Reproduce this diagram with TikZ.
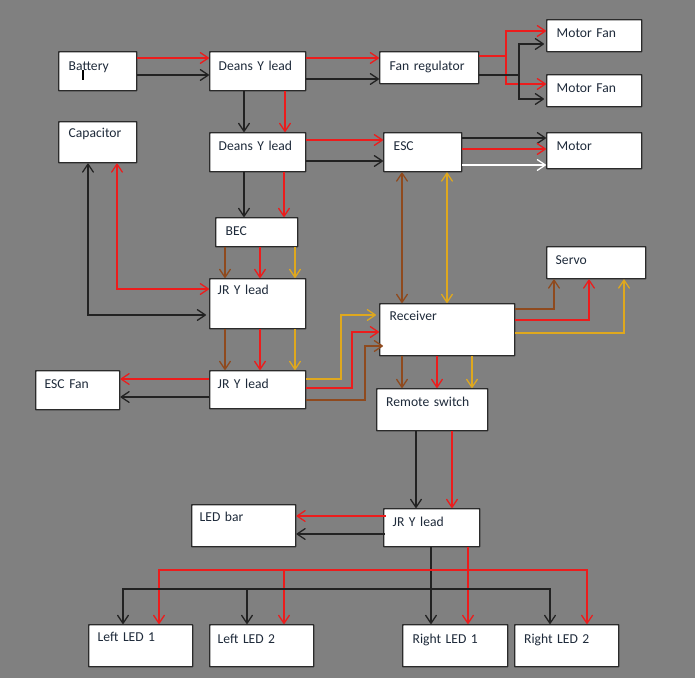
\documentclass[tikz,border=0pt]{standalone}
\usepackage{fontspec}
\setmainfont{Carlito}
\usetikzlibrary{arrows.meta}
\definecolor{bggray}{HTML}{808080}
\definecolor{edge}{HTML}{2B2B2B}
\definecolor{wred}{HTML}{EC1C1C}
\definecolor{wblack}{HTML}{222222}
\definecolor{wbrown}{HTML}{8F4A1E}
\definecolor{wyellow}{HTML}{DFA81E}
\definecolor{labelc}{HTML}{1E2A3A}
\tikzset{
  x=0.75pt,y=-0.75pt,
  dn/.style={yshift=-#1*0.75pt},
  rt/.style={xshift=#1*0.75pt},
  tipb/.tip={Straight Barb[length=6pt,width=8pt,round]},
  boxs/.style={draw=edge,fill=white,line width=1.1pt,anchor=north west,inner ysep=0pt,
     align=left,text=labelc,font=\fontsize{10.2}{12}\selectfont,rounded corners=0.4pt},
  wire/.style={line width=0.95pt,-{tipb}},
  plain/.style={line width=0.95pt},
  wr/.style={wire,color=wred},
  wk/.style={wire,color=wblack},
  wb/.style={wire,color=wbrown},
  wy/.style={wire,color=wyellow},
  ww/.style={wire,color=white},
  dbl/.style={{tipb}-{tipb}},
}
\newcommand\bx[8]{%
  \pgfmathsetmacro\bw{(#4-#2)*0.75}%
  \pgfmathsetmacro\bh{(#5-#3)*0.75}%
  \pgfmathsetmacro\bl{(#6-#2)*0.75}%
  \pgfmathsetmacro\ta{(#7+3.5-#3)*0.75}%
  \pgfmathsetmacro\td{(#5-#7-3.5)*0.75}%
  \node[boxs,minimum width=\bw pt,minimum height=\bh pt,
        text width=\bw pt-2*\bl pt,text height=\ta pt,text depth=\td pt,
        inner xsep=\bl pt] (#1) at (#2,#3) {\leavevmode\rlap{#8}};%
}
\begin{document}
\begin{tikzpicture}
\useasboundingbox (0,0) rectangle (695,678);
\fill[bggray] (0,0) rectangle (695,678);
% boxes: name, x0,y0,x1,y1, text x, text mid y, text
\bx{bat}{58}{51}{136}{90}{68}{66}{Battery}
\bx{d1}{209}{51}{305}{90}{218}{66}{Deans Y lead}
\bx{cap}{58}{121}{136}{162}{68}{133}{Capacitor}
\bx{d2}{209}{132}{305}{171}{218}{146}{Deans Y lead}
\bx{bec}{215}{217}{297}{246}{225}{231}{BEC}
\bx{j1}{209}{278}{305}{328}{217}{290}{JR Y lead}
\bx{j2}{209}{370}{305}{408}{217}{384}{JR Y lead}
\bx{fan}{35}{370}{119}{409}{44}{384}{ESC Fan}
\bx{reg}{379}{51}{478}{83}{389}{66}{Fan regulator}
\bx{mf1}{546}{19}{641}{51}{556}{33}{Motor Fan}
\bx{mf2}{546}{74}{641}{106}{556}{88}{Motor Fan}
\bx{esc}{383}{132}{461}{171}{393}{146}{ESC}
\bx{mot}{546}{132}{641}{168}{556}{146}{Motor}
\bx{srv}{546}{246}{645}{278}{555}{260}{Servo}
\bx{rcv}{379}{303}{514}{355}{389}{316}{Receiver}
\bx{rem}{376}{388}{487}{430}{385.5}{402}{Remote switch}
\bx{j3}{383}{508}{479}{546}{392}{522}{JR Y lead}
\bx{led}{191}{504}{295}{546}{199}{517}{LED bar}
\bx{l1}{88}{624}{192}{666}{97}{637}{Left LED 1}
\bx{l2}{209}{624}{313}{666}{217}{639}{Left LED 2}
\bx{r1}{402}{624}{507}{666}{412}{639}{Right LED 1}
\bx{r2}{514}{624}{618}{666}{523.5}{639}{Right LED 2}
% text cursor over Battery
\draw[black,line width=1.2pt] (83,70) -- (83,80);
% junction and routing coordinates
\coordinate (fr) at (506,56);
\coordinate (fk) at (519,75);
\coordinate (yv) at (341,350);
\coordinate (rv) at (352,360);
\coordinate (bv) at (365,370);
\coordinate (rbus) at (468,570);
\coordinate (kbus) at (431,589);
% battery to first lead
\draw[wr] ([dn=7]bat.north east) -- ([dn=7]d1.north west);
\draw[wk] ([dn=24]bat.north east) -- ([dn=24]d1.north west);
% first lead
\draw[wr] ([dn=7]d1.north east) -- ([dn=7]reg.north west);
\draw[wk] ([dn=28]d1.north east) -- ([dn=28]reg.north west);
\draw[wk] ([rt=35]d1.south west) -- ([rt=35]d2.north west);
\draw[wr] ([rt=76]d1.south west) -- ([rt=76]d2.north west);
% fan regulator
\draw[plain,wred] ([dn=5]reg.north east) -- (fr);
\draw[wr] (fr) |- ([dn=12]mf1.north west);
\draw[wr] (fr) |- ([dn=10]mf2.north west);
\draw[plain,wblack] ([dn=24]reg.north east) -- (fk);
\draw[wk] (fk) |- ([rt=-2,dn=25]mf1.north west);
\draw[wk] (fk) |- ([rt=-2,dn=25]mf2.north west);
% second lead
\draw[wr] ([dn=8]d2.north east) -- ([dn=8]esc.north west);
\draw[wk] ([dn=29]d2.north east) -- ([dn=29]esc.north west);
\draw[wk] ([rt=35]d2.south west) -- ([rt=29]bec.north west);
\draw[wr] ([rt=75]d2.south west) -- ([rt=69]bec.north west);
% ESC
\draw[wk] ([dn=6]esc.north east) -- ([dn=6]mot.north west);
\draw[wr] ([dn=17]esc.north east) -- ([dn=17]mot.north west);
\draw[ww] ([dn=33]esc.north east) -- ([dn=33]mot.north west);
\draw[wb,dbl] ([rt=19]esc.south west) -- ([rt=23]rcv.north west);
\draw[wy,dbl] ([rt=64]esc.south west) -- ([rt=68]rcv.north west);
% BEC to JR leads
\draw[wb] ([rt=10]bec.south west) -- ([rt=16]j1.north west);
\draw[wr] ([rt=45]bec.south west) -- ([rt=51]j1.north west);
\draw[wy] ([rt=80]bec.south west) -- ([rt=86]j1.north west);
\draw[wb] ([rt=16]j1.south west) -- ([rt=16]j2.north west);
\draw[wr] ([rt=51]j1.south west) -- ([rt=51]j2.north west);
\draw[wy] ([rt=86]j1.south west) -- ([rt=86]j2.north west);
% capacitor
\draw[wk,dbl] ([rt=30]cap.south west) |- ([rt=-3,dn=37]j1.north west);
\draw[wr,dbl] ([rt=59]cap.south west) |- ([dn=11]j1.north west);
% JR lead 2
\draw[wr] ([dn=9]j2.north west) -- ([dn=9]fan.north east);
\draw[wk] ([dn=27]j2.north west) -- ([dn=27]fan.north east);
\draw[wy] ([dn=9]j2.north east) -| (yv) |- ([rt=-3,dn=12]rcv.north west);
\draw[wr] ([dn=18]j2.north east) -| (rv) |- ([dn=29]rcv.north west);
\draw[wb] ([dn=30]j2.north east) -| (bv) |- ([rt=4,dn=43]rcv.north west);
% receiver
\draw[wb] ([dn=6]rcv.north east) -| ([rt=8]srv.south west);
\draw[wr] ([dn=17]rcv.north east) -| ([rt=43]srv.south west);
\draw[wy] ([dn=30]rcv.north east) -| ([rt=78]srv.south west);
\draw[wb] ([rt=23]rcv.south west) -- ([rt=26]rem.north west);
\draw[wr] ([rt=58]rcv.south west) -- ([rt=61]rem.north west);
\draw[wy] ([rt=93]rcv.south west) -- ([rt=96]rem.north west);
% remote switch
\draw[wk] ([rt=40]rem.south west) -- ([rt=33]j3.north west);
\draw[wr] ([rt=76]rem.south west) -- ([rt=69]j3.north west);
% JR lead 3
\draw[wr] ([rt=2.5,dn=8]j3.north west) -- ([dn=12]led.north east);
\draw[wk] ([rt=2,dn=26]j3.north west) -- ([dn=30]led.north east);
\draw[wk] ([rt=48]j3.south west) -- ([rt=29]r1.north west);
\draw[wr] ([rt=85]j3.south west) -- ([rt=66]r1.north west);
% LED buses
\draw[wr] (rbus) -| ([rt=71]l1.north west);
\draw[wr] (rbus) -| ([rt=75]l2.north west);
\draw[wr] (rbus) -| ([rt=73]r2.north west);
\draw[wk] (kbus) -| ([rt=35]l1.north west);
\draw[wk] (kbus) -| ([rt=38]l2.north west);
\draw[wk] (kbus) -| ([rt=36]r2.north west);
\end{tikzpicture}
\end{document}
